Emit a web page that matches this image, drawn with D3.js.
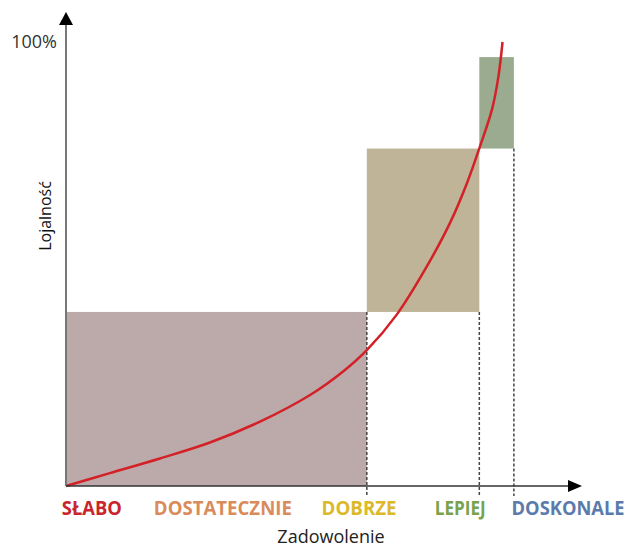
<!DOCTYPE html>
<html>
<head>
<meta charset="utf-8">
<script src="https://cdn.jsdelivr.net/npm/d3@7"></script>
<style>
  body { margin: 0; background: #fff; }
  svg { display: block; }
</style>
</head>
<body>
<div id="chart"></div>
<script>
// levels on the satisfaction axis (0-100) and loyalty (0-100)
var levels = ["SŁABO", "DOSTATECZNIE", "DOBRZE", "LEPIEJ", "DOSKONALE"];
var levelScore = [5.0, 30.4, 56.8, 76.4, 97.3];
var levelColors = ["#c8252c", "#d98b5b", "#dcb92a", "#78a24c", "#5b7bad"];

// zones: satisfaction from-to, loyalty from-to
var zoneX0 = [0, 58.3, 80.1];
var zoneX1 = [58.3, 80.1, 86.8];
var zoneY0 = [0, 39.2, 76.0];
var zoneY1 = [39.2, 76.0, 96.6];
var zoneColors = ["#bcaaaa", "#bfb497", "#9aab8f"];

// loyalty curve
var curveX = [0, 8.5, 18.2, 27.9, 37.6, 47.3, 53.7, 58.3, 64.1, 69.9, 74.4, 77.7, 80.2, 82.6, 83.8, 84.6];
var curveY = [0, 2.9, 6.2, 9.8, 14.5, 20.5, 25.8, 30.6, 38.6, 49.4, 59.2, 68.2, 76.4, 85.0, 92.2, 100];

var yTickLabel = "100%";
var xTitle = "Zadowolenie";
var yTitle = "Lojalność";

var width = 628, height = 547;
var margin = { top: 42, right: 46, bottom: 61, left: 66 };

var svg = d3.select("#chart").append("svg")
    .attr("width", width)
    .attr("height", height);

var x = d3.scaleLinear()
    .domain([0, 100])
    .range([margin.left, width - margin.right]);

var y = d3.scaleLinear()
    .domain([0, 100])
    .range([height - margin.bottom, margin.top]);

var zones = zoneX0.map(function(d, i) {
    return { x0: d, x1: zoneX1[i], y0: zoneY0[i], y1: zoneY1[i], color: zoneColors[i] };
});

// rectangles
svg.selectAll("rect.zone")
    .data(zones)
    .enter()
    .append("rect")
    .attr("class", "zone")
    .attr("x", d => x(d.x0))
    .attr("y", d => y(d.y1))
    .attr("width", d => x(d.x1) - x(d.x0))
    .attr("height", d => y(d.y0) - y(d.y1))
    .attr("fill", d => d.color);

// dashed guides down to axis
svg.selectAll("line.guide")
    .data(zones)
    .enter()
    .append("line")
    .attr("class", "guide")
    .attr("x1", d => x(d.x1))
    .attr("x2", d => x(d.x1))
    .attr("y1", d => d.y0 === 0 ? y(d.y1) : y(d.y0))
    .attr("y2", y(0) + 10)
    .attr("stroke", "#444")
    .attr("stroke-width", 1.5)
    .attr("stroke-dasharray", "3,2");

// curve
var line = d3.line()
    .x(d => x(d[0]))
    .y(d => y(d[1]))
    .curve(d3.curveCatmullRom.alpha(0.5));

svg.append("path")
    .datum(curveX.map((d, i) => [d, curveY[i]]))
    .attr("d", line)
    .attr("fill", "none")
    .attr("stroke", "#d42027")
    .attr("stroke-width", 2.5);

// axes with arrows
var x0 = x(0), y0 = y(0);
svg.append("line")
    .attr("x1", x0).attr("x2", x0)
    .attr("y1", y0).attr("y2", 25)
    .attr("stroke", "#777")
    .attr("stroke-width", 2);
svg.append("path")
    .attr("d", `M${x0 - 7},25 L${x0},12 L${x0 + 7},25 Z`)
    .attr("fill", "#000");

svg.append("line")
    .attr("x1", x0).attr("x2", 568)
    .attr("y1", y0).attr("y2", y0)
    .attr("stroke", "#333")
    .attr("stroke-width", 1.5);
svg.append("path")
    .attr("d", `M568,${y0 - 6} L582,${y0} L568,${y0 + 6} Z`)
    .attr("fill", "#000");

// texts
svg.append("text")
    .attr("x", 57)
    .attr("y", y(100) + 6)
    .attr("text-anchor", "end")
    .style("font-family", "'Open Sans', sans-serif")
    .style("font-size", "18px")
    .attr("fill", "#333")
    .text(yTickLabel);

svg.append("text")
    .attr("transform", "translate(51,216) rotate(-90)")
    .attr("text-anchor", "middle")
    .style("font-family", "'Open Sans', sans-serif")
    .style("font-size", "16px")
    .attr("fill", "#111")
    .text(yTitle);

svg.append("text")
    .attr("x", 331)
    .attr("y", 543)
    .attr("text-anchor", "middle")
    .style("font-family", "'Open Sans', sans-serif")
    .style("font-size", "18px")
    .attr("fill", "#222")
    .text(xTitle);

var labelWidths = [60, 138, 75, 51, 113];
svg.selectAll("text.level")
    .data(levels)
    .enter()
    .append("text")
    .attr("class", "level")
    .attr("x", (d, i) => x(levelScore[i]) - labelWidths[i] / 2)
    .attr("y", 515)
    .attr("textLength", (d, i) => labelWidths[i])
    .attr("lengthAdjust", "spacingAndGlyphs")
    .style("font-family", "'Open Sans', sans-serif")
    .style("font-weight", "bold")
    .style("font-size", "19px")
    .attr("fill", (d, i) => levelColors[i])
    .text(d => d);
</script>
</body>
</html>
